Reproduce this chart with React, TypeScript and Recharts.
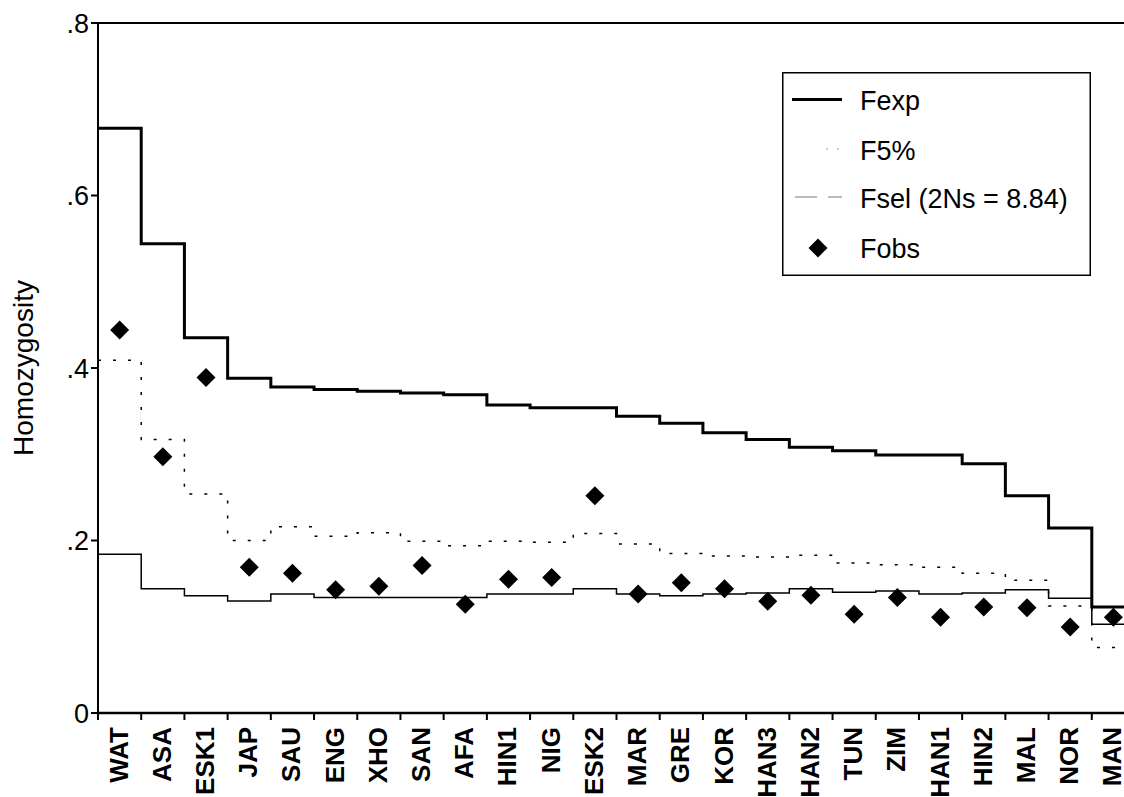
import React from 'react';
import { ComposedChart, Legend, Line, ReferenceLine, Scatter, XAxis, YAxis } from 'recharts';

const FONT = "'Liberation Sans', Arial, Helvetica, sans-serif";

const categories = [
  'WAT', 'ASA', 'ESK1', 'JAP', 'SAU', 'ENG', 'XHO', 'SAN', 'AFA', 'HIN1', 'NIG', 'ESK2',
  'MAR', 'GRE', 'KOR', 'HAN3', 'HAN2', 'TUN', 'ZIM', 'HAN1', 'HIN2', 'MAL', 'NOR', 'MAN',
];

// expected homozygosity (neutral)
const fexp = [
  0.678, 0.544, 0.435, 0.388, 0.378, 0.375, 0.373, 0.371, 0.369, 0.357, 0.354, 0.354,
  0.344, 0.336, 0.325, 0.317, 0.308, 0.304, 0.299, 0.299, 0.289, 0.252, 0.2145, 0.123,
];

// lower 5% bound
const f5 = [
  0.409, 0.317, 0.254, 0.2, 0.216, 0.205, 0.209, 0.199, 0.194, 0.199, 0.198, 0.208,
  0.196, 0.185, 0.182, 0.181, 0.183, 0.174, 0.172, 0.169, 0.162, 0.154, 0.124, 0.076,
];

// under selection, 2Ns = 8.84
const fsel = [
  0.184, 0.144, 0.136, 0.13, 0.138, 0.134, 0.134, 0.134, 0.134, 0.138, 0.138, 0.144,
  0.138, 0.136, 0.138, 0.139, 0.144, 0.14, 0.1415, 0.138, 0.139, 0.143, 0.133, 0.103,
];

// observed
const fobs = [
  0.444, 0.297, 0.389, 0.169, 0.162, 0.143, 0.147, 0.171, 0.126, 0.155, 0.157, 0.252,
  0.138, 0.151, 0.144, 0.1295, 0.1365, 0.1145, 0.134, 0.111, 0.123, 0.122, 0.0997, 0.111,
];

const yTicks = [0, 0.2, 0.4, 0.6, 0.8];
const yTickLabels = ['0', '.2', '.4', '.6', '.8'];

// step rows sit on the category boundaries, one extra row closes the last band
const last = categories.length - 1;
const stepRows = [
  ...categories.map((name, i) => ({ x: i, name, fexp: fexp[i], f5: f5[i], fsel: fsel[i] })),
  { x: categories.length, name: '', fexp: fexp[last], f5: f5[last], fsel: fsel[last] },
];
const obsRows = categories.map((name, i) => ({ x: i + 0.5, name, fobs: fobs[i] }));

// integer ticks = boundary marks, half ticks = labels
const xTicks = Array.from({ length: categories.length * 2 + 1 }, (_, i) => i / 2);

function CategoryTick(props: any) {
  const { x, y, payload } = props;
  const v = payload.value;
  if (Number.isInteger(v)) {
    return <line x1={x} x2={x} y1={y} y2={y + 7} stroke="#000" strokeWidth={2} />;
  }
  return (
    <text
      transform={`translate(${x + 8},${y + 14}) rotate(-90)`}
      textAnchor="end"
      fontSize={26}
      fontWeight="bold"
      fontFamily={FONT}
      fill="#000"
    >
      {categories[Math.floor(v)]}
    </text>
  );
}

function Diamond(props: any) {
  const { cx, cy } = props;
  const r = 9.5;
  return (
    <polygon points={`${cx},${cy - r} ${cx + r},${cy} ${cx},${cy + r} ${cx - r},${cy}`} fill="#000" />
  );
}

function LegendBox() {
  const text = { fontSize: 27, fontFamily: FONT, fill: '#000' };
  return (
    <svg width={309} height={204} style={{ display: 'block' }}>
      <rect x={0.75} y={0.75} width={307.5} height={202.5} fill="#fff" stroke="#000" strokeWidth={1.5} />
      <line x1={10} x2={60} y1={27.5} y2={27.5} stroke="#000" strokeWidth={3} />
      <text x={78} y={38} {...text}>Fexp</text>
      <line x1={44} x2={60} y1={77} y2={77} stroke="#999" strokeWidth={1.2} strokeDasharray="2 9" />
      <text x={78} y={88} {...text}>F5%</text>
      <line x1={13} x2={60} y1={125} y2={125} stroke="#777" strokeWidth={1.2} strokeDasharray="22 11 14" />
      <text x={78} y={136} {...text}>Fsel (2Ns = 8.84)</text>
      <Diamond cx={36} cy={176} />
      <text x={78} y={186} {...text}>Fobs</text>
    </svg>
  );
}

export default function App() {
  return (
    <div
      style={{
        position: 'fixed',
        left: 0,
        top: 0,
        width: 1124,
        height: 797,
        overflow: 'hidden',
        background: '#fff',
      }}
    >
      <ComposedChart
        width={1135}
        height={797}
        data={stepRows}
        margin={{ top: 23, right: 0, bottom: 0, left: 0 }}
      >
        <XAxis
          dataKey="x"
          type="number"
          domain={[0, categories.length]}
          ticks={xTicks}
          interval={0}
          tickLine={false}
          tickSize={0}
          tickMargin={0}
          tick={<CategoryTick />}
          height={84}
          axisLine={{ stroke: '#000', strokeWidth: 2.5 }}
        />
        <YAxis
          type="number"
          domain={[0, 0.8]}
          ticks={yTicks}
          interval={0}
          tickFormatter={(v: number) => yTickLabels[yTicks.indexOf(v)] ?? String(v)}
          width={98}
          tickSize={7}
          tickMargin={2}
          tick={{ fontSize: 27, fill: '#000', fontFamily: FONT }}
          axisLine={{ stroke: '#000', strokeWidth: 2 }}
          tickLine={{ stroke: '#000', strokeWidth: 2 }}
          label={(p: any) => {
            const vb = p.viewBox || {};
            const cy = vb.y != null ? vb.y + vb.height / 2 : 368;
            return (
              <text
                transform={`translate(23,${cy}) rotate(-90)`}
                textAnchor="middle"
                dominantBaseline="central"
                fontSize={28}
                fontFamily={FONT}
                fill="#000"
              >
                Homozygosity
              </text>
            );
          }}
        />
        <ReferenceLine y={0.8} stroke="#000" strokeWidth={2} />
        <Line
          dataKey="f5"
          type="stepAfter"
          stroke="#000"
          strokeWidth={1.5}
          strokeDasharray="3 12"
          dot={false}
          activeDot={false}
          isAnimationActive={false}
        />
        <Line
          dataKey="fsel"
          type="stepAfter"
          stroke="#000"
          strokeWidth={1.5}
          dot={false}
          activeDot={false}
          isAnimationActive={false}
        />
        <Line
          dataKey="fexp"
          type="stepAfter"
          stroke="#000"
          strokeWidth={3}
          dot={false}
          activeDot={false}
          isAnimationActive={false}
        />
        <Scatter data={obsRows} dataKey="fobs" shape={Diamond} isAnimationActive={false} />
        <Legend
          layout="vertical"
          align="center"
          verticalAlign="middle"
          wrapperStyle={{ left: 782, top: 72, width: 309, height: 204 }}
          content={() => <LegendBox />}
        />
      </ComposedChart>
    </div>
  );
}
